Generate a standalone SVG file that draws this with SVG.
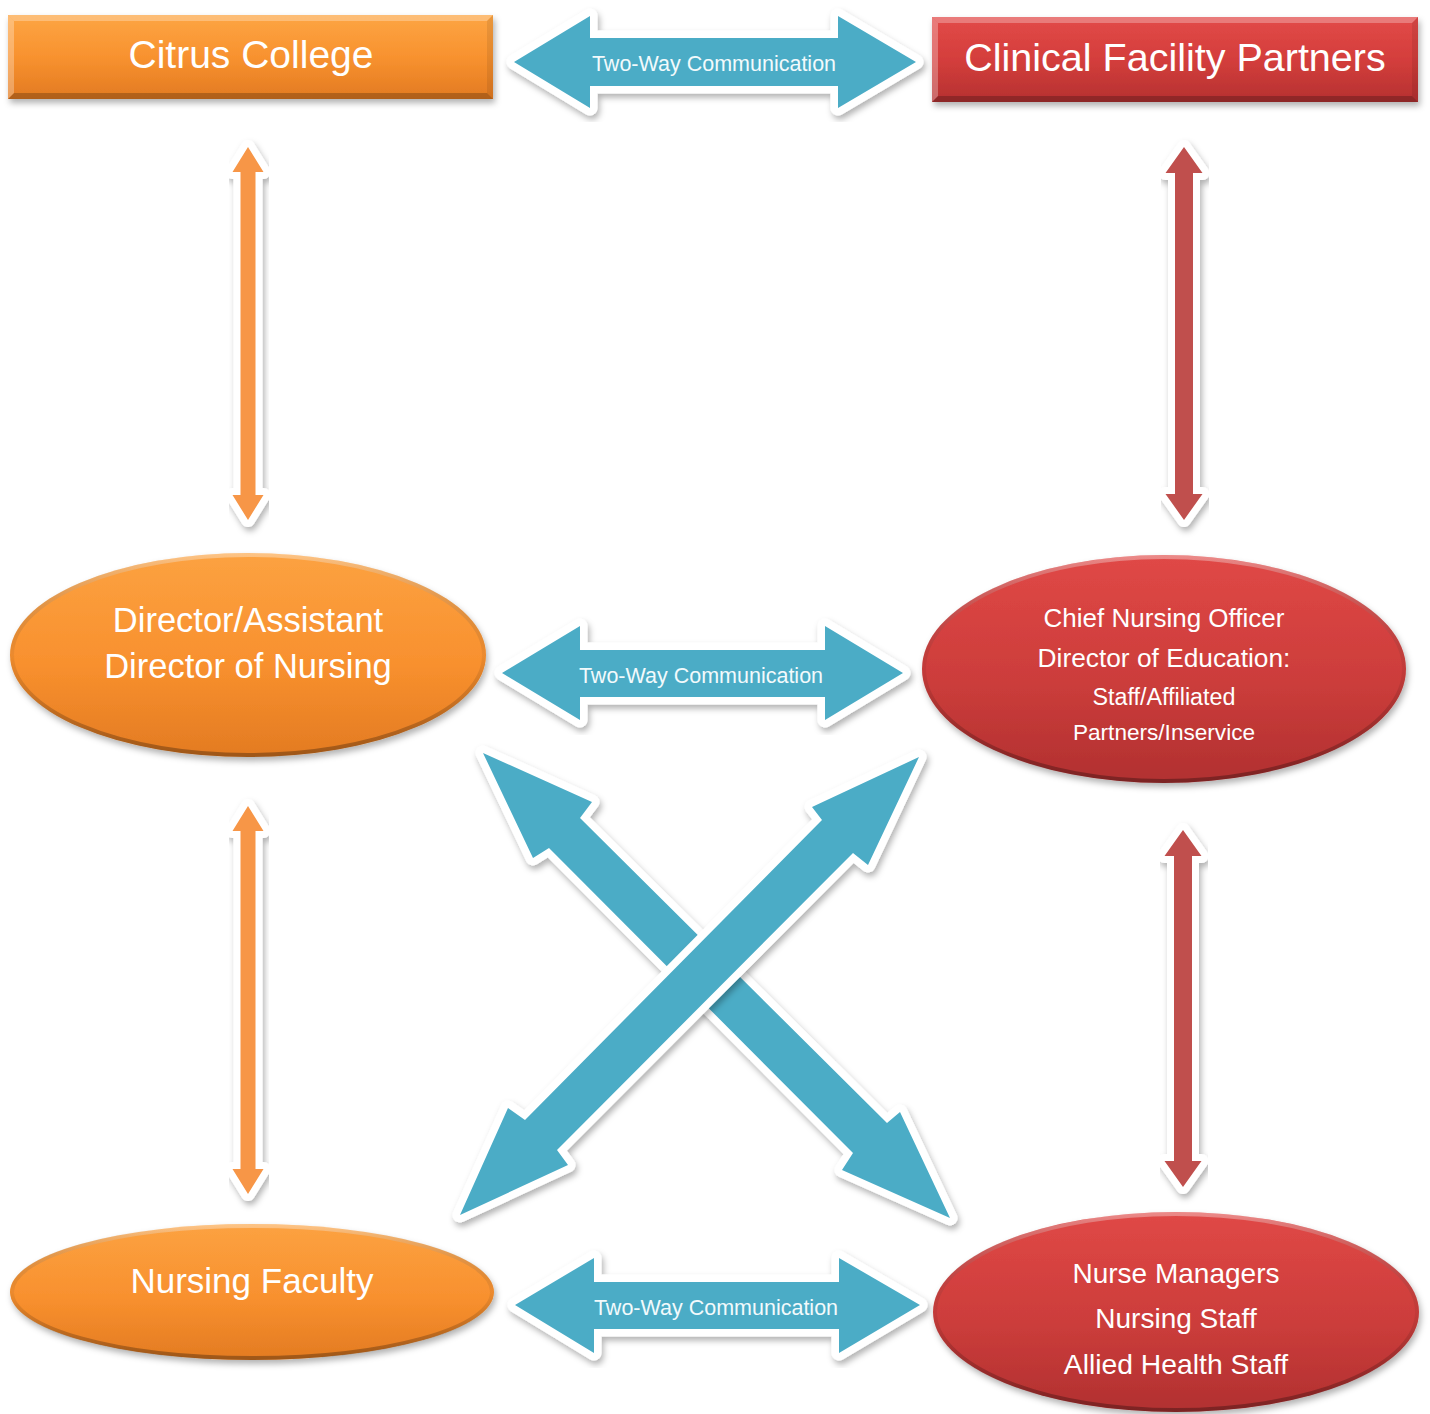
<svg xmlns="http://www.w3.org/2000/svg" width="1430" height="1414" viewBox="0 0 1430 1414">
<defs>
<filter id="sh" x="-10%" y="-10%" width="125%" height="125%">
<feDropShadow dx="2" dy="4" stdDeviation="3" flood-color="#000" flood-opacity="0.3"/>
</filter>
<linearGradient id="gO" x1="0" y1="0" x2="0" y2="1">
<stop offset="0" stop-color="#FDA543"/>
<stop offset="0.5" stop-color="#F8922F"/>
<stop offset="1" stop-color="#E27A22"/>
</linearGradient>
<linearGradient id="gR" x1="0" y1="0" x2="0" y2="1">
<stop offset="0" stop-color="#E24A48"/>
<stop offset="0.5" stop-color="#D43E3C"/>
<stop offset="1" stop-color="#B53130"/>
</linearGradient>
<linearGradient id="gOE" x1="0" y1="0" x2="0" y2="1">
<stop offset="0" stop-color="#FCA241"/>
<stop offset="0.55" stop-color="#F8902E"/>
<stop offset="1" stop-color="#E37B22"/>
</linearGradient>
<linearGradient id="gRE" x1="0" y1="0" x2="0" y2="1">
<stop offset="0" stop-color="#E04846"/>
<stop offset="0.55" stop-color="#CC3D3B"/>
<stop offset="1" stop-color="#B13030"/>
</linearGradient>
<linearGradient id="rim" x1="0" y1="0" x2="0" y2="1">
<stop offset="0" stop-color="#fff" stop-opacity="0.35"/>
<stop offset="0.5" stop-color="#000" stop-opacity="0.05"/>
<stop offset="1" stop-color="#000" stop-opacity="0.3"/>
</linearGradient>
</defs>
<style>
.lbl{font-family:"Liberation Sans",Arial,sans-serif;fill:#fff;text-anchor:middle}
.twc{font-family:"Liberation Sans",Arial,sans-serif;fill:#F2FAFC;text-anchor:middle;font-size:21.5px}
.teal{fill:#4BACC6;stroke:#fff;stroke-width:15;stroke-linejoin:round;paint-order:stroke;filter:url(#sh)}
.oar{fill:#F79646;stroke:#fff;stroke-width:14;stroke-linejoin:round;paint-order:stroke;filter:url(#sh)}
.rar{fill:#C0504D;stroke:#fff;stroke-width:14;stroke-linejoin:round;paint-order:stroke;filter:url(#sh)}
.bevT{fill:#fff;fill-opacity:0.28}
.bevB{fill:#000;fill-opacity:0.22}
.bevS{fill:#000;fill-opacity:0.08}
.rimE{fill:none;stroke:url(#rim);stroke-width:4}
</style>

<g id="connectors">
<polygon id="c-top" class="teal" points="514,62 590,16 590,38 838,38 838,16 916,62 838,108 838,86 590,86 590,108"/>
<polygon id="c-mid" class="teal" points="502,673 580,626 580,650 825,650 825,626 903,673 825,720 825,697 580,697 580,720"/>
<polygon id="c-bot" class="teal" points="515,1305 594,1258 594,1282 839,1282 839,1258 920,1305 839,1353 839,1329 594,1329 594,1353"/>
<polygon id="c-o1" class="oar" points="248,147 263.5,172 255.5,172 255.5,495 263.5,495 248,520 232.5,495 240.5,495 240.5,172 232.5,172"/>
<polygon id="c-o2" class="oar" points="248,806 263.5,831 255.5,831 255.5,1169 263.5,1169 248,1194 232.5,1169 240.5,1169 240.5,831 232.5,831"/>
<polygon id="c-r1" class="rar" points="1184,147 1202.5,173 1193,173 1193,494 1202.5,494 1184,520 1165.5,494 1175,494 1175,173 1165.5,173"/>
<polygon id="c-r2" class="rar" points="1183,830 1201.5,856 1192,856 1192,1161 1201.5,1161 1183,1187 1164.5,1161 1174,1161 1174,856 1164.5,856"/>
<polygon id="c-xa" class="teal" points="483,753 592,802 580,818 887,1123 900,1112 950,1218 842,1170 853,1153 549,848 533,858"/>
<polygon id="c-xb" class="teal" points="919,757 868,865 853,853 557,1150 568,1165 460,1215 508,1108 525,1120 822,820 812,807"/>
<text class="twc" x="714" y="71">Two-Way Communication</text>
<text class="twc" x="701" y="683">Two-Way Communication</text>
<text class="twc" x="716" y="1315">Two-Way Communication</text>
</g>

<g id="citrus">
<rect x="8" y="15" width="485" height="84" fill="url(#gO)" filter="url(#sh)"/>
<polygon class="bevT" points="8,15 493,15 487,21 14,21"/>
<polygon class="bevB" points="8,99 493,99 487,93 14,93"/>
<polygon class="bevS" points="493,15 493,99 487,93 487,21"/>
<polygon class="bevT" points="8,15 8,99 14,93 14,21" fill-opacity="0.15"/>
<text class="lbl" x="251" y="68" font-size="39">Citrus College</text>
</g>

<g id="clinical">
<rect x="932" y="17" width="486" height="85" fill="url(#gR)" filter="url(#sh)"/>
<polygon class="bevT" points="932,17 1418,17 1412,23 938,23"/>
<polygon class="bevB" points="932,102 1418,102 1412,96 938,96"/>
<polygon class="bevS" points="1418,17 1418,102 1412,96 1412,23"/>
<polygon class="bevT" points="932,17 932,102 938,96 938,23" fill-opacity="0.15"/>
<text class="lbl" x="1175" y="71" font-size="39.5">Clinical Facility Partners</text>
</g>

<g id="director">
<ellipse cx="248" cy="655" rx="238" ry="102" fill="url(#gOE)" filter="url(#sh)"/>
<ellipse class="rimE" cx="248" cy="655" rx="236" ry="100"/>
<text class="lbl" x="248" y="632" font-size="34.5">Director/Assistant</text>
<text class="lbl" x="248" y="678" font-size="34.5">Director of Nursing</text>
</g>

<g id="chief">
<ellipse cx="1164" cy="669" rx="242" ry="114" fill="url(#gRE)" filter="url(#sh)"/>
<ellipse class="rimE" cx="1164" cy="669" rx="240" ry="112"/>
<text class="lbl" x="1164" y="627" font-size="26">Chief Nursing Officer</text>
<text class="lbl" x="1164" y="667" font-size="26.3">Director of Education:</text>
<text class="lbl" x="1164" y="705" font-size="23.3">Staff/Affiliated</text>
<text class="lbl" x="1164" y="740" font-size="22.6">Partners/Inservice</text>
</g>

<g id="faculty">
<ellipse cx="252" cy="1292" rx="242" ry="68" fill="url(#gOE)" filter="url(#sh)"/>
<ellipse class="rimE" cx="252" cy="1292" rx="240" ry="66"/>
<text class="lbl" x="252" y="1293" font-size="35">Nursing Faculty</text>
</g>

<g id="managers">
<ellipse cx="1176" cy="1312" rx="243" ry="100" fill="url(#gRE)" filter="url(#sh)"/>
<ellipse class="rimE" cx="1176" cy="1312" rx="241" ry="98"/>
<text class="lbl" x="1176" y="1283" font-size="28">Nurse Managers</text>
<text class="lbl" x="1176" y="1328" font-size="28">Nursing Staff</text>
<text class="lbl" x="1176" y="1374" font-size="28.3">Allied Health Staff</text>
</g>
</svg>
